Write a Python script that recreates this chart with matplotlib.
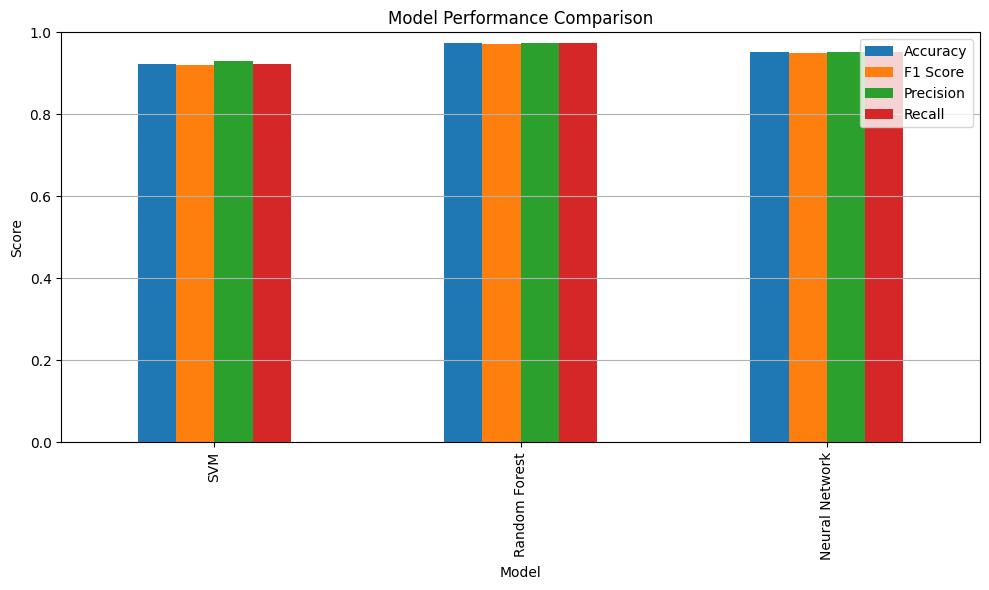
import matplotlib
matplotlib.use('Agg')
import matplotlib.pyplot as plt
import pandas as pd

models = ['SVM', 'Random Forest', 'Neural Network']
accuracy = [0.922, 0.974, 0.952]
f1_score = [0.920, 0.971, 0.950]
precision = [0.929, 0.974, 0.952]
recall = [0.922, 0.973, 0.951]

df = pd.DataFrame({'Accuracy': accuracy, 'F1 Score': f1_score,
                   'Precision': precision, 'Recall': recall}, index=models)
df.index.name = 'Model'

fig, ax = plt.subplots(figsize=(10, 6), dpi=100)
df.plot(kind='bar', ax=ax)
ax.set_title('Model Performance Comparison')
ax.set_ylabel('Score')
ax.set_ylim(0, 1)
ax.grid(axis='y')
plt.tight_layout()
plt.savefig('out.png', bbox_inches='tight')
